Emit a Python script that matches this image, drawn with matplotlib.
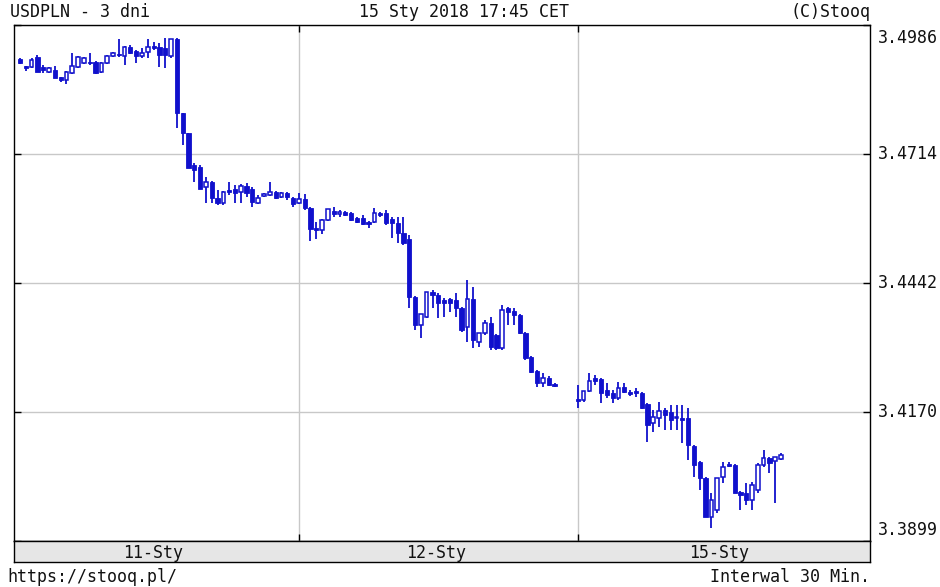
import numpy as np
import matplotlib.pyplot as plt
from matplotlib import transforms

# dane: swiece 30-minutowe USDPLN, 3 dni sesyjne
days = ["11-Sty", "12-Sty", "15-Sty"]
bars_per_day = [48, 45, 36]
y_ticks = [3.3899, 3.4170, 3.4442, 3.4714, 3.4986]

open_ = [
    3.4915, 3.4900, 3.4898, 3.4919, 3.4898, 3.4887, 3.4891, 3.4876, 3.4870, 3.4885,
    3.4898, 3.4906, 3.4908, 3.4908, 3.4887, 3.4906, 3.4921, 3.4925, 3.4921, 3.4940,
    3.4931, 3.4921, 3.4929, 3.4942, 3.4940, 3.4938, 3.4921, 3.4957, 3.4801, 3.4758,
    3.4691, 3.4687, 3.4645, 3.4655, 3.4622, 3.4611, 3.4638, 3.4641, 3.4634, 3.4647,
    3.4641, 3.4611, 3.4626, 3.4628, 3.4634, 3.4624, 3.4632, 3.4622,
    3.4611, 3.4620, 3.4601, 3.4558, 3.4554, 3.4575, 3.4594, 3.4588, 3.4592, 3.4590,
    3.4580, 3.4580, 3.4571, 3.4571, 3.4590, 3.4590, 3.4577, 3.4569, 3.4548, 3.4535,
    3.4413, 3.4354, 3.4371, 3.4423, 3.4417, 3.4407, 3.4409, 3.4407, 3.4390, 3.4350,
    3.4409, 3.4318, 3.4337, 3.4358, 3.4333, 3.4306, 3.4390, 3.4384, 3.4375, 3.4337,
    3.4287, 3.4257, 3.4232, 3.4242, 3.4230,
    3.4198, 3.4196, 3.4215, 3.4242, 3.4240, 3.4217, 3.4211, 3.4200, 3.4223, 3.4213,
    3.4215, 3.4211, 3.4188, 3.4147, 3.4158, 3.4175, 3.4171, 3.4158, 3.4158, 3.4158,
    3.4099, 3.4065, 3.4031, 3.3950, 3.3964, 3.4034, 3.4061, 3.4059, 3.4002, 3.4000,
    3.3985, 3.4006, 3.4059, 3.4074, 3.4067, 3.4072,
]
high = [
    3.4917, 3.4900, 3.4917, 3.4923, 3.4902, 3.4898, 3.4900, 3.4876, 3.4889, 3.4927,
    3.4921, 3.4919, 3.4927, 3.4910, 3.4908, 3.4923, 3.4929, 3.4957, 3.4942, 3.4944,
    3.4933, 3.4938, 3.4957, 3.4950, 3.4948, 3.4959, 3.4957, 3.4959, 3.4801, 3.4758,
    3.4695, 3.4691, 3.4666, 3.4657, 3.4638, 3.4636, 3.4655, 3.4649, 3.4651, 3.4653,
    3.4645, 3.4628, 3.4632, 3.4655, 3.4636, 3.4634, 3.4634, 3.4624,
    3.4632, 3.4630, 3.4603, 3.4571, 3.4577, 3.4599, 3.4603, 3.4596, 3.4594, 3.4592,
    3.4582, 3.4586, 3.4573, 3.4601, 3.4592, 3.4596, 3.4582, 3.4582, 3.4582, 3.4544,
    3.4415, 3.4377, 3.4423, 3.4428, 3.4421, 3.4411, 3.4411, 3.4421, 3.4392, 3.4449,
    3.4434, 3.4337, 3.4364, 3.4371, 3.4335, 3.4396, 3.4392, 3.4390, 3.4377, 3.4339,
    3.4289, 3.4259, 3.4253, 3.4246, 3.4232,
    3.4228, 3.4215, 3.4253, 3.4248, 3.4242, 3.4232, 3.4217, 3.4234, 3.4232, 3.4217,
    3.4221, 3.4213, 3.4190, 3.4175, 3.4192, 3.4179, 3.4185, 3.4185, 3.4185, 3.4179,
    3.4101, 3.4067, 3.4034, 3.4000, 3.4031, 3.4065, 3.4065, 3.4061, 3.4004, 3.4021,
    3.4023, 3.4063, 3.4091, 3.4076, 3.4076, 3.4084,
]
low = [
    3.4904, 3.4889, 3.4896, 3.4887, 3.4885, 3.4885, 3.4874, 3.4866, 3.4862, 3.4883,
    3.4896, 3.4904, 3.4902, 3.4883, 3.4885, 3.4904, 3.4919, 3.4919, 3.4902, 3.4925,
    3.4906, 3.4917, 3.4917, 3.4933, 3.4898, 3.4896, 3.4917, 3.4769, 3.4733, 3.4685,
    3.4655, 3.4641, 3.4611, 3.4611, 3.4607, 3.4607, 3.4628, 3.4611, 3.4611, 3.4624,
    3.4603, 3.4609, 3.4624, 3.4626, 3.4620, 3.4622, 3.4617, 3.4603,
    3.4609, 3.4596, 3.4531, 3.4535, 3.4546, 3.4573, 3.4582, 3.4582, 3.4584, 3.4573,
    3.4569, 3.4565, 3.4558, 3.4569, 3.4582, 3.4565, 3.4537, 3.4527, 3.4523, 3.4390,
    3.4343, 3.4327, 3.4369, 3.4390, 3.4369, 3.4371, 3.4381, 3.4371, 3.4339, 3.4318,
    3.4306, 3.4308, 3.4333, 3.4301, 3.4301, 3.4301, 3.4354, 3.4354, 3.4335, 3.4281,
    3.4253, 3.4223, 3.4223, 3.4225, 3.4223,
    3.4179, 3.4192, 3.4213, 3.4228, 3.4190, 3.4200, 3.4190, 3.4196, 3.4211, 3.4204,
    3.4202, 3.4177, 3.4108, 3.4129, 3.4139, 3.4133, 3.4133, 3.4133, 3.4105, 3.4069,
    3.4034, 3.4006, 3.3950, 3.3926, 3.3958, 3.4021, 3.4055, 3.4000, 3.3964, 3.3975,
    3.3964, 3.4000, 3.4055, 3.4042, 3.3979, 3.4069,
]
close = [
    3.4906, 3.4896, 3.4912, 3.4887, 3.4891, 3.4896, 3.4874, 3.4870, 3.4887, 3.4900,
    3.4919, 3.4917, 3.4906, 3.4885, 3.4906, 3.4921, 3.4927, 3.4923, 3.4940, 3.4927,
    3.4921, 3.4927, 3.4940, 3.4938, 3.4923, 3.4923, 3.4957, 3.4801, 3.4758, 3.4685,
    3.4680, 3.4641, 3.4655, 3.4622, 3.4611, 3.4634, 3.4634, 3.4632, 3.4647, 3.4632,
    3.4613, 3.4622, 3.4630, 3.4634, 3.4622, 3.4632, 3.4624, 3.4609,
    3.4620, 3.4601, 3.4556, 3.4554, 3.4575, 3.4599, 3.4588, 3.4592, 3.4586, 3.4575,
    3.4571, 3.4567, 3.4567, 3.4590, 3.4586, 3.4569, 3.4569, 3.4548, 3.4527, 3.4413,
    3.4354, 3.4377, 3.4423, 3.4417, 3.4400, 3.4400, 3.4400, 3.4390, 3.4343, 3.4409,
    3.4322, 3.4337, 3.4358, 3.4308, 3.4306, 3.4386, 3.4381, 3.4375, 3.4337, 3.4285,
    3.4255, 3.4232, 3.4242, 3.4228, 3.4225,
    3.4194, 3.4215, 3.4236, 3.4236, 3.4211, 3.4206, 3.4200, 3.4221, 3.4213, 3.4209,
    3.4211, 3.4179, 3.4143, 3.4160, 3.4173, 3.4164, 3.4154, 3.4160, 3.4154, 3.4101,
    3.4059, 3.4031, 3.3950, 3.3985, 3.4031, 3.4055, 3.4057, 3.4000, 3.3996, 3.3985,
    3.4017, 3.4059, 3.4074, 3.4063, 3.4076, 3.4080,
]

BLUE = "#1010cc"
GRID = "#c8c8c8"
TXT = "#111111"
FONT = "DejaVu Sans Mono"
FS = 12

# pozycja swiecy = nr dnia * 48 + nr polgodziny
x = np.concatenate([d * 48 + np.arange(n) for d, n in enumerate(bars_per_day)])
o, h, l, c = (np.array(v) for v in (open_, high, low, close))
up = c >= o

W, H = 940, 587
fig = plt.figure(figsize=(W / 100, H / 100), dpi=100)
ax = fig.add_axes([14 / W, 1 - 541 / H, 856 / W, 516 / H])
strip = fig.add_axes([14 / W, 1 - 562 / H, 856 / W, 21 / H])

xlim = (-1.03, 146.3)
ax.set_xlim(*xlim)
ax.set_ylim(y_ticks[0], y_ticks[-1])

ax.vlines(x, l, h, color=BLUE, lw=1.3, zorder=3)
body_bot = np.minimum(o, c)
body_h = np.maximum(np.abs(c - o), 0.00025)
ax.bar(x[~up], body_h[~up], bottom=body_bot[~up], width=0.72,
       color=BLUE, edgecolor=BLUE, lw=0.6, zorder=4)
ax.bar(x[up], body_h[up], bottom=body_bot[up], width=0.62,
       facecolor="white", edgecolor=BLUE, lw=1.1, zorder=4)

ax.set_yticks(y_ticks)
ax.set_xticks([48, 96])
ax.grid(True, color=GRID, lw=1.0, zorder=0)
ax.tick_params(axis="both", direction="in", length=5, width=1,
               left=True, right=True, top=True, bottom=True,
               labelleft=False, labelbottom=False)
for s in ax.spines.values():
    s.set_linewidth(1.0)

trans = transforms.blended_transform_factory(ax.transAxes, ax.transData)
for i, v in enumerate(y_ticks):
    dy = 0
    if i == 0:
        dy = 11
    elif i == len(y_ticks) - 1:
        dy = -13
    t = transforms.offset_copy(trans, fig=fig, x=0, y=dy, units="dots")
    ax.text(1 + 8 / 856, v, f"{v:.4f}", transform=t, ha="left", va="center",
            fontsize=FS, family=FONT, color=TXT)

strip.set_xlim(*xlim)
strip.set_ylim(0, 1)
strip.set_facecolor("#e6e6e6")
strip.set_xticks([])
strip.set_yticks([])
for s in strip.spines.values():
    s.set_linewidth(1.0)
label_x = [22.9, 71.6, 120.3]
for lx, name in zip(label_x, days):
    strip.text(lx, 0.45, name, ha="center", va="center",
               fontsize=FS, family=FONT, color=TXT)

fig.text(10 / W, 1 - 12 / H, "USDPLN - 3 dni", ha="left", va="center",
         fontsize=FS, family=FONT, color=TXT)
fig.text(464 / W, 1 - 12 / H, "15 Sty 2018 17:45 CET", ha="center", va="center",
         fontsize=FS, family=FONT, color=TXT)
fig.text(870 / W, 1 - 12 / H, "(C)Stooq", ha="right", va="center",
         fontsize=FS, family=FONT, color=TXT)
fig.text(7 / W, 1 - 577 / H, "https://stooq.pl/", ha="left", va="center",
         fontsize=FS, family=FONT, color=TXT)
fig.text(870 / W, 1 - 577 / H, "Interwal 30 Min.", ha="right", va="center",
         fontsize=FS, family=FONT, color=TXT)

fig.savefig("out.png", dpi=100, facecolor="white")
